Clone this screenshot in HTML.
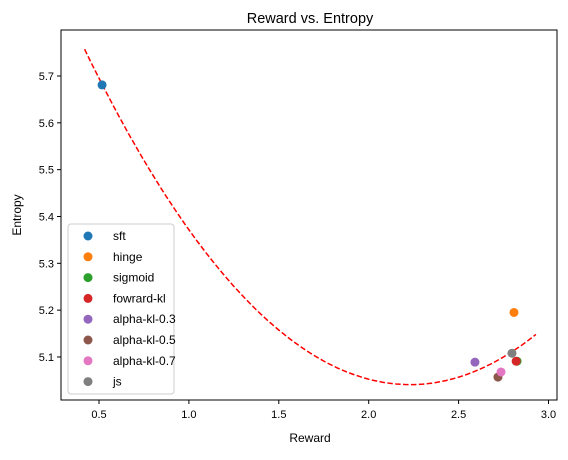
<!DOCTYPE html>
<html><head><meta charset="utf-8"><style>
body{margin:0;background:#fff;}
svg text{font-family:"Liberation Sans","DejaVu Sans",sans-serif;fill:#000;}
</style></head><body>
<svg id="chart" width="568" height="455" xmlns="http://www.w3.org/2000/svg">
<rect width="568" height="455" fill="#fff"/>
<text x="310" y="23" font-size="14.5" text-anchor="middle">Reward vs. Entropy</text>
<text x="310" y="442" font-size="12" text-anchor="middle">Reward</text>
<text transform="translate(21,215) rotate(-90)" font-size="12" text-anchor="middle">Entropy</text>
<g id="ticks"></g>
<g id="curve"></g>
<g id="points"></g>
<rect x="61" y="30" width="496" height="370" fill="none" stroke="#000" stroke-width="1"/>
<g id="legend"></g>
</svg>
<script>
const labels=["sft","hinge","sigmoid","fowrard-kl","alpha-kl-0.3","alpha-kl-0.5","alpha-kl-0.7","js"];
const rewards=[0.517,2.808,2.825,2.82,2.591,2.719,2.736,2.797];
const entropies=[5.681,5.195,5.091,5.091,5.089,5.057,5.068,5.108];
const colors=["#1f77b4","#ff7f0e","#2ca02c","#d62728","#9467bd","#8c564b","#e377c2","#7f7f7f"];
const xTicks=[0.5,1.0,1.5,2.0,2.5,3.0];
const yTicks=[5.1,5.2,5.3,5.4,5.5,5.6,5.7];
const fitCoef=[0.2186,2.23,5.041]; // a*(x-h)^2+k
const fitRange=[0.42,2.93];
const NS="http://www.w3.org/2000/svg";
const X=v=>99+(v-0.5)*179.8;
const Y=v=>76+(5.7-v)*468.3;
function mk(t,a,p){const e=document.createElementNS(NS,t);for(const k in a)e.setAttribute(k,a[k]);p.appendChild(e);return e;}
const tg=document.getElementById('ticks');
xTicks.forEach(t=>{
 const l=mk('line',{x1:X(t),x2:X(t),y1:400,y2:404,stroke:'#000'},tg);
 
 
 const s=mk('text',{x:X(t),y:418,'font-size':'11','text-anchor':'middle'},tg);s.textContent=t.toFixed(1);
 
 
});
yTicks.forEach(t=>{
 const l=mk('line',{x1:57,x2:61,y1:Y(t),y2:Y(t),stroke:'#000'},tg);
 
 
 const s=mk('text',{x:54,y:Y(t)+4,'font-size':'11','text-anchor':'end'},tg);s.textContent=t.toFixed(1);
 
 
});
let d='';
for(let i=0;i<=100;i++){const x=fitRange[0]+(fitRange[1]-fitRange[0])*i/100;const y=fitCoef[0]*(x-fitCoef[1])**2+fitCoef[2];d+=(i?'L':'M')+X(x).toFixed(1)+' '+Y(y).toFixed(1);}
const c=mk('path',{d:d,fill:'none',stroke:'#ff0000','stroke-width':1.5,'stroke-dasharray':'5.5,2.4'},document.getElementById('curve'));


const pg=document.getElementById('points');
labels.forEach((n,i)=>{
 const p=mk('circle',{cx:X(rewards[i]),cy:Y(entropies[i]),r:4.5,fill:colors[i]},pg);
 
 
});
const lg=document.getElementById('legend');
const box=mk('rect',{x:68,y:224,width:106,height:170,rx:3,fill:'#fff','fill-opacity':0.8,stroke:'#ccc'},lg);


labels.forEach((n,i)=>{
 const y=236+i*20.8;
 const g=mk('g',{},lg);
 
 
 mk('circle',{cx:88,cy:y,r:4.5,fill:colors[i]},g);
 const t=mk('text',{x:113,y:y+4,'font-size':'12'},g);t.textContent=n;
});
</script>
</body></html>
